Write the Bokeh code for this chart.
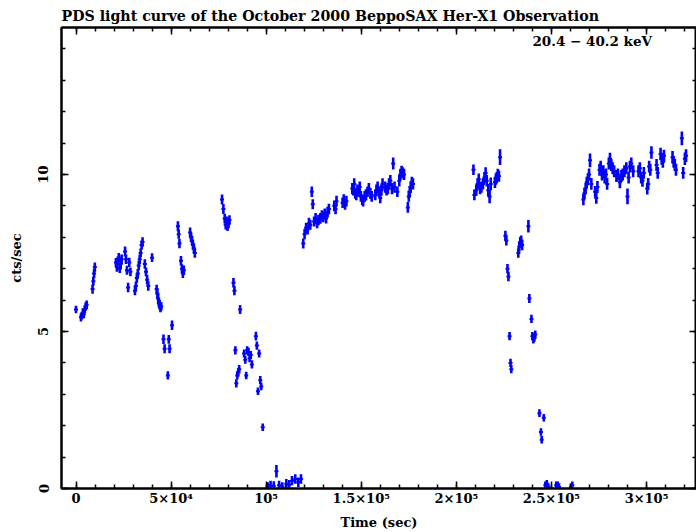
import numpy as np
from bokeh.plotting import figure
from bokeh.models import (LinearAxis, SingleIntervalTicker, Range1d, Label, ColumnDataSource,
                          CustomJSTickFormatter)
from bokeh.embed import file_html
from bokeh.resources import INLINE

# ---- data: PDS 20.4-40.2 keV light curve (time in s, rate in cts/s, 1-sigma error)
a_t = [0, 2600, 3100, 3600, 4100, 4600, 5100, 5600, 8700, 9100, 9500, 9900]
a_r = [5.7, 5.45, 5.5, 5.6, 5.55, 5.7, 5.8, 5.85, 6.35, 6.6, 6.85, 7.05]
a_e = [0.12, 0.13, 0.12, 0.14, 0.13, 0.12, 0.13, 0.14, 0.15, 0.14, 0.15, 0.15]

b_t = [21000, 21500, 22000, 22500, 23000, 23500, 24000, 25800, 26300, 26800, 27400, 28000, 28600]
b_r = [7.2, 7.05, 7.25, 7.35, 7.0, 7.15, 7.3, 7.55, 7.3, 6.95, 6.4, 7.2, 6.9]
b_e = [0.14, 0.15, 0.14, 0.15, 0.14, 0.15, 0.15, 0.16, 0.15, 0.14, 0.15, 0.15, 0.14]

c_t = [31000, 31500, 32000, 32500, 33000, 33500, 34000, 34500, 35000, 36200, 36800, 37400, 38000, 40000]
c_r = [6.3, 6.45, 6.7, 6.85, 7.1, 7.3, 7.5, 7.75, 7.85, 7.15, 6.9, 6.65, 6.45, 7.35]
c_e = [0.15, 0.14, 0.15, 0.14, 0.15, 0.15, 0.14, 0.15, 0.15, 0.15, 0.14, 0.15, 0.15, 0.14]

d_t = [42400, 42800, 43200, 43600, 44000, 44400, 44800, 46000, 46600, 48300, 48800, 49200, 50500]
d_r = [6.35, 6.2, 6.05, 5.9, 5.85, 5.75, 5.8, 4.75, 4.45, 3.6, 4.75, 4.45, 5.2]
d_e = [0.14, 0.15, 0.14, 0.14, 0.15, 0.14, 0.14, 0.15, 0.14, 0.13, 0.14, 0.14, 0.15]

e_t = [53600, 54000, 54400, 55200, 55700, 56200, 56700, 60000, 60500, 61000, 61500, 62000, 62500]
e_r = [8.35, 8.1, 7.8, 7.25, 7.0, 6.85, 6.95, 8.15, 8.0, 7.9, 7.75, 7.65, 7.5]
e_e = [0.16, 0.15, 0.15, 0.15, 0.14, 0.15, 0.15, 0.16, 0.15, 0.15, 0.15, 0.16, 0.15]

f_t = [76800, 77500, 78200, 78700, 79200, 79700, 80200, 80700]
f_r = [9.2, 8.9, 8.6, 8.4, 8.5, 8.35, 8.45, 8.55]
f_e = [0.16, 0.16, 0.15, 0.15, 0.16, 0.15, 0.16, 0.15]

g_t = [82800, 83300, 83800, 84300, 84800, 85300, 85800, 86300, 88400, 89000, 89500, 90000,
       90700, 91300, 91900, 92500, 94600, 95100, 95700, 96300, 96900, 97400, 98200]
g_r = [6.55, 6.3, 4.4, 3.35, 3.6, 3.7, 3.8, 5.7, 4.3, 4.1, 3.6, 4.4,
       4.35, 4.15, 4.25, 3.95, 4.85, 4.55, 3.1, 4.3, 3.45, 3.25, 1.95]
g_e = [0.15, 0.15, 0.13, 0.13, 0.13, 0.13, 0.13, 0.14, 0.13, 0.13, 0.12, 0.13,
       0.13, 0.13, 0.13, 0.13, 0.14, 0.13, 0.12, 0.13, 0.13, 0.12, 0.12]

h_t = [100800, 102300, 104000, 105400, 106800, 108500, 110600, 112100, 113600, 115300, 116900, 118300]
h_r = [0.05, 0.1, 0.08, 0.55, 0.1, 0.05, 0.15, 0.12, 0.25, 0.3, 0.2, 0.3]
h_e = [0.15, 0.15, 0.15, 0.2, 0.15, 0.15, 0.15, 0.15, 0.15, 0.15, 0.15, 0.15]

i_t = [119500, 120200, 121000, 121800, 122500, 123200, 124000, 124500, 125200, 126000,
       126800, 127500, 128500, 129300, 130000, 130800, 131500, 132300, 133000, 135800,
       136500, 137000, 140200, 140800, 141500, 142200, 145300, 145800, 146300, 146800,
       147400, 148000, 148600, 149200, 149800, 150500, 151000, 151800, 152500, 153300,
       154000, 154800, 155500, 157400, 158000, 158600, 159300, 160000, 160600, 161200,
       162600, 163300, 164000, 164600, 165300, 166200, 166800, 167500, 169000, 170000,
       170600, 171200, 171800, 172500, 174500, 175000, 175500, 176000, 176600, 177200]
i_r = [7.8, 8.1, 8.3, 8.25, 8.45, 8.4, 9.45, 9.05, 8.5, 8.6,
       8.45, 8.55, 8.6, 8.7, 8.65, 8.75, 8.6, 8.8, 8.9, 9.0,
       8.9, 9.15, 9.1, 9.2, 9.05, 9.15, 9.55, 9.5, 9.7, 9.4,
       9.35, 9.5, 9.45, 9.6, 9.3, 9.2, 9.15, 9.3, 9.35, 9.45,
       9.55, 9.4, 9.3, 9.35, 9.5, 9.6, 9.45, 9.25, 9.5, 9.7,
       9.6, 9.5, 9.55, 9.7, 9.8, 9.55, 10.35, 9.6, 9.45, 9.8,
       10.0, 10.1, 10.05, 10.0, 8.95, 9.3, 9.45, 9.6, 9.75, 9.7]
i_e = [0.16, 0.16, 0.16, 0.16, 0.17, 0.16, 0.17, 0.16, 0.16, 0.17,
       0.16, 0.17, 0.17, 0.16, 0.17, 0.17, 0.16, 0.17, 0.17, 0.17,
       0.17, 0.17, 0.17, 0.17, 0.17, 0.17, 0.18, 0.17, 0.18, 0.17,
       0.17, 0.18, 0.17, 0.18, 0.17, 0.17, 0.17, 0.17, 0.18, 0.17,
       0.18, 0.17, 0.17, 0.17, 0.18, 0.18, 0.17, 0.17, 0.18, 0.18,
       0.18, 0.17, 0.18, 0.18, 0.18, 0.18, 0.19, 0.18, 0.17, 0.18,
       0.18, 0.18, 0.18, 0.18, 0.17, 0.17, 0.18, 0.18, 0.18, 0.18]

j_t = [209000, 209500, 210500, 211200, 211800, 212500, 213200, 214000, 214800, 215400,
       216000, 216800, 217500, 218100, 220300, 220800, 221300, 221800, 222400, 223000]
j_r = [10.15, 9.35, 9.5, 9.7, 9.85, 9.55, 9.6, 9.7, 9.9, 10.05,
       9.8, 9.5, 9.3, 9.7, 9.75, 9.85, 9.9, 10.0, 9.95, 10.55]
j_e = [0.17, 0.17, 0.18, 0.18, 0.18, 0.18, 0.18, 0.18, 0.18, 0.18,
       0.18, 0.2, 0.22, 0.2, 0.18, 0.18, 0.18, 0.18, 0.18, 0.25]

k_t = [225800, 226300, 226900, 227400, 228000, 228500, 228900, 232600, 233100, 233600,
       234100, 234600, 237900, 238400, 239500, 240000, 240500, 241000, 241500, 243700,
       244500, 244900, 246000]
k_r = [8.05, 7.9, 7.0, 6.75, 4.85, 4.0, 3.8, 7.5, 7.7, 7.85,
       7.9, 7.75, 8.35, 6.05, 5.4, 4.85, 4.75, 4.8, 4.9, 2.4,
       1.8, 1.55, 2.25]
k_e = [0.16, 0.16, 0.15, 0.15, 0.13, 0.13, 0.13, 0.15, 0.16, 0.16,
       0.16, 0.16, 0.2, 0.14, 0.13, 0.13, 0.13, 0.13, 0.13, 0.12,
       0.12, 0.12, 0.12]

l_t = [246800, 247600, 248400, 252500, 253300, 254000, 260300, 261000]
l_r = [0.1, 0.15, 0.05, 0.1, 0.1, 0.05, 0.05, 0.1]
l_e = [0.12, 0.12, 0.12, 0.12, 0.12, 0.12, 0.12, 0.12]

m_t = [266800, 267400, 268000, 268600, 269200, 269800, 270300, 271000, 273000, 273600,
       274200, 275300, 275900, 276600, 277300, 278000, 278700, 279300, 280200, 280800,
       281500, 282200, 283000, 284200, 285000, 286000, 286800, 287500, 288400, 289400,
       290000, 290600, 291300, 292000, 293000, 295800, 296500, 297200, 297900, 298600,
       300400, 300900, 301400, 302000, 302600, 305300, 305900, 307400, 308000, 308600,
       309200, 313700, 314300, 314900, 315500, 318600, 319300, 320200, 320800]
m_r = [9.2, 9.4, 9.55, 9.75, 9.85, 10.0, 10.45, 9.7, 9.45, 9.25,
       9.6, 10.15, 10.25, 10.0, 10.1, 9.9, 10.0, 9.7, 10.35, 10.5,
       10.3, 10.2, 10.1, 9.95, 10.0, 9.75, 9.95, 10.0, 10.1, 10.2,
       9.3, 9.9, 10.25, 10.35, 10.1, 10.1, 10.2, 9.9, 9.8, 10.05,
       9.55, 9.7, 10.25, 10.15, 10.7, 10.3, 10.05, 10.65, 10.5, 10.4,
       10.6, 10.55, 10.4, 10.3, 10.15, 11.15, 10.05, 10.5, 10.6]
m_e = [0.18, 0.18, 0.18, 0.18, 0.19, 0.19, 0.22, 0.19, 0.18, 0.18,
       0.19, 0.19, 0.19, 0.19, 0.19, 0.19, 0.19, 0.19, 0.19, 0.19,
       0.19, 0.19, 0.19, 0.19, 0.19, 0.19, 0.19, 0.19, 0.19, 0.19,
       0.25, 0.19, 0.19, 0.19, 0.19, 0.19, 0.19, 0.19, 0.19, 0.19,
       0.19, 0.19, 0.19, 0.19, 0.2, 0.19, 0.19, 0.2, 0.19, 0.19,
       0.19, 0.2, 0.19, 0.19, 0.19, 0.22, 0.19, 0.2, 0.2]

x_tick_values = [0, 50000, 100000, 150000, 200000, 250000, 300000]
x_tick_labels = ["0", "5×10⁴", "10⁵", "1.5×10⁵", "2×10⁵", "2.5×10⁵", "3×10⁵"]

title_text = "PDS light curve of the October 2000 BeppoSAX Her-X1 Observation"
band_text = "20.4 − 40.2 keV"

# ---- assemble
t = np.array(a_t + b_t + c_t + d_t + e_t + f_t + g_t + h_t + i_t + j_t + k_t + l_t + m_t, dtype=float)
r = np.array(a_r + b_r + c_r + d_r + e_r + f_r + g_r + h_r + i_r + j_r + k_r + l_r + m_r, dtype=float)
e = np.array(a_e + b_e + c_e + d_e + e_e + f_e + g_e + h_e + i_e + j_e + k_e + l_e + m_e, dtype=float)
src = ColumnDataSource(dict(t=t, r=r, lo=r - e, hi=r + e))

FONT = "DejaVu Serif"
BLUE = "#0000ff"

p = figure(width=696, height=532, x_range=Range1d(-7630, 326300), y_range=Range1d(0, 14.68),
           output_backend="svg", toolbar_location=None,
           min_border_left=61, min_border_right=0, min_border_top=27, min_border_bottom=43)
p.grid.visible = False
p.outline_line_color = "black"
p.outline_line_width = 2
p.background_fill_color = "white"
p.border_fill_color = "white"

p.segment(x0="t", y0="lo", x1="t", y1="hi", source=src, line_color=BLUE, line_width=2.6)
p.scatter(x="t", y="r", source=src, marker="dash", size=4, line_color=BLUE, line_width=2)

p.title.text = title_text
p.title.text_font = FONT
p.title.text_font_style = "bold"
p.title.text_font_size = "14.2px"
p.title.text_color = "black"
p.title.align = "left"
p.title.standoff = 8

bottom = p.below[0]
left = p.left[0]

xt = SingleIntervalTicker(interval=50000, num_minor_ticks=5)
yt = SingleIntervalTicker(interval=5, num_minor_ticks=5)
bottom.ticker = xt
left.ticker = yt
bottom.major_label_overrides = {v: s for v, s in zip(x_tick_values, x_tick_labels)}
bottom.axis_label = "Time (sec)"
left.axis_label = "cts/sec"
left.major_label_orientation = "vertical"

blank = CustomJSTickFormatter(code="return '';")
top = LinearAxis(ticker=xt, formatter=blank, major_label_standoff=0)
right = LinearAxis(ticker=yt, formatter=blank, major_label_standoff=0)
p.add_layout(top, "above")
p.add_layout(right, "right")

for ax in [bottom, left, top, right]:
    ax.major_tick_in = 7
    ax.major_tick_out = 0
    ax.minor_tick_in = 4
    ax.minor_tick_out = 0
    ax.axis_line_width = 2
    ax.axis_line_color = "black"
    ax.major_tick_line_width = 1.5
    ax.minor_tick_line_width = 1.5
    ax.major_tick_line_color = "black"
    ax.minor_tick_line_color = "black"
    ax.major_label_text_font = FONT
    ax.major_label_text_font_style = "bold"
    ax.major_label_text_color = "black"
    ax.major_label_text_font_size = "13px"
    ax.axis_label_text_font = FONT
    ax.axis_label_text_font_style = "bold"
    ax.axis_label_text_color = "black"
    ax.axis_label_text_font_size = "13px"

bottom.major_label_standoff = 2
bottom.axis_label_standoff = 6
left.major_label_standoff = 13
left.axis_label_standoff = 12

p.add_layout(Label(x=240000, y=14.24, text=band_text, text_font=FONT, text_font_style="bold",
                   text_font_size="13.5px", text_baseline="middle", text_align="left",
                   text_color="black"))

open("out.html", "w").write(file_html(p, INLINE))
